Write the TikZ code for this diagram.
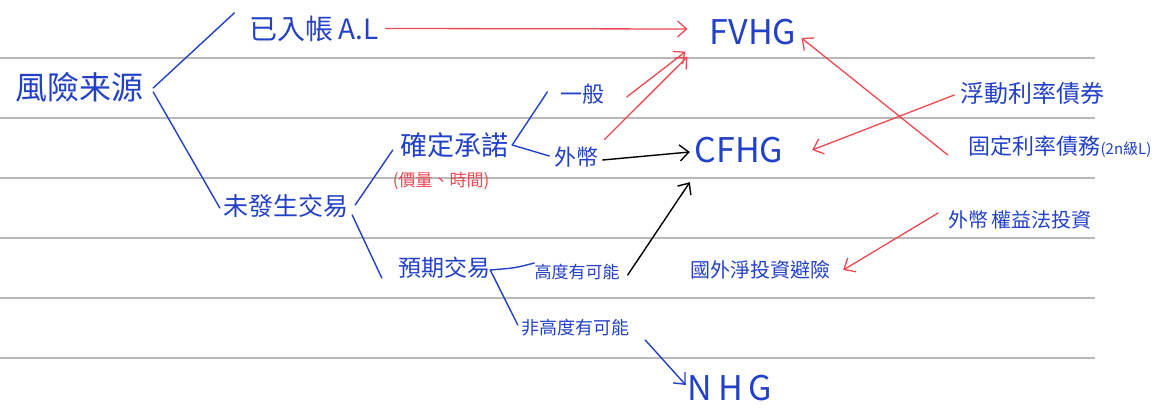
\documentclass[tikz,border=0pt]{standalone}
\usepackage{fontspec}
\setmainfont{Noto Sans CJK TC}
\usetikzlibrary{arrows.meta,calc}
\definecolor{ink}{RGB}{35,65,200}
\definecolor{rink}{RGB}{238,72,82}
\definecolor{ruleline}{RGB}{185,185,185}
\newcommand\fsz[1]{\fontsize{#1}{#1}\selectfont}
\begin{document}
\begin{tikzpicture}[x=1pt,y=-1pt,
  lbl/.style={inner sep=0pt,text=ink},
  bline/.style={draw=ink,line width=1.4pt,line cap=round},
  barr/.style={bline,-{Straight Barb[length=9pt,width=16pt]}},
  karr/.style={draw=black,line width=1.4pt,line cap=round,-{Straight Barb[length=9pt,width=16pt]}},
  rarr/.style={draw=rink,line width=1.3pt,line cap=round,-{Straight Barb[length=9pt,width=16pt]}}]
\useasboundingbox (0,0) rectangle (1166,411);
\fill[white] (0,0) rectangle (1166,411);
\foreach \y in {58,118,178,238,298,358}
  \draw[ruleline,line width=1.6pt] (0,\y) -- (1095,\y);

% nodes
\node[lbl,minimum width=140,minimum height=30] (fx) at (80,87) {\fsz{32}風險来源};
\node[lbl,minimum width=128,minimum height=33] (yr) at (314,28.5) {\fsz{28}已入帳\,A.L};
\node[lbl,minimum width=128,minimum height=37] (wf) at (286,206) {\fsz{25}未發生交易};
\node[lbl,minimum width=112,minimum height=35] (qd) at (454,145) {\fsz{27}確定承諾};
\node[lbl,text=rink,minimum width=98,minimum height=27] (jl) at (441,181) {\fsz{17}(價量、時間)};
\node[lbl,minimum width=45,minimum height=32] (yb) at (582,94) {\fsz{22}一般};
\node[lbl,minimum width=47,minimum height=35] (wb) at (576,157) {\fsz{22}外幣};
\node[lbl,minimum width=92,minimum height=31] (yq) at (444,268) {\fsz{23}預期交易};
\node[lbl,minimum width=85,minimum height=35] (gd) at (577,272) {\fsz{17}高度有可能};
\node[lbl,minimum width=110,minimum height=35] (fg) at (575,328) {\fsz{18}非高度有可能};
\node[lbl,minimum width=83,minimum height=35] (fv) at (753,32) {\fsz{34}FVHG};
\node[lbl,minimum width=92,minimum height=30] (cf) at (739,150) {\fsz{34}CFHG};
\node[lbl,minimum width=80,minimum height=33] (nh) at (730,388) {\fsz{34}N\,H\,G};
\node[lbl,minimum width=145,minimum height=37] (fd) at (1032,93) {\fsz{24}浮動利率債券};
\node[lbl,minimum width=200,minimum height=43] (gl) at (1060,147) {\fsz{22}固定利率債務{\fsz{15}(2n級L)}};
\node[lbl,minimum width=140,minimum height=40] (wq) at (1020,220) {\fsz{20}外幣\,權益法投資};
\node[lbl,minimum width=140,minimum height=40] (gw) at (760,270) {\fsz{20}國外淨投資避險};

% blue bracket lines
\draw[bline] ($(fx.east)+(3,1)$) -- ($(yr.north west)+(-15,1)$);
\draw[bline] ($(fx.east)+(3,5)$) -- ($(wf.west)+(-2,2)$);
\draw[bline] ($(wf.east)+(5,-1)$) -- ($(qd.west)+(-5,5)$);
\draw[bline] ($(wf.east)+(2,9)$) -- ($(yq.west)+(-16,10)$);
\draw[bline] ($(qd.east)+(2,0)$) -- ($(yb.west)+(-12,-2)$);
\draw[bline] ($(qd.east)+(2,0)$) -- ($(wb.west)+(-3,-1)$);
\draw[bline] ($(yq.east)+(0,2)$) .. controls ($(yq.east)+(25,0)$) .. ($(gd.west)+(0,-9)$);
\draw[bline] ($(yq.east)+(0,2)$) -- ($(fg.west)+(-2,-3)$);
\draw[barr] ($(fg.east)+(15,12)$) -- ($(nh.west)+(-2,-3)$);

% black arrows
\draw[karr] ($(wb.east)+(3,3)$) -- ($(cf.west)+(-3,2)$);
\draw[karr] ($(gd.east)+(8,3)$) -- ($(cf.south west)+(-3,17)$);

% red arrows
\draw[rarr] ($(yr.east)+(7,0)$) -- ($(fv.west)+(-22,-3)$);
\draw[rarr] ($(yb.east)+(22,3)$) -- ($(fv.south west)+(-24,2)$);
\draw[rarr] ($(wb.north east)+(5,0)$) -- ($(fv.south west)+(-22,7)$);
\draw[rarr] ($(fd.west)+(-5,2)$) -- ($(cf.east)+(27,0)$);
\draw[rarr] ($(gl.west)+(-12,8)$) -- ($(fv.east)+(5,6)$);
\draw[rarr] ($(wq.west)+(-10,-7)$) -- ($(gw.east)+(13,0)$);
\end{tikzpicture}
\end{document}
